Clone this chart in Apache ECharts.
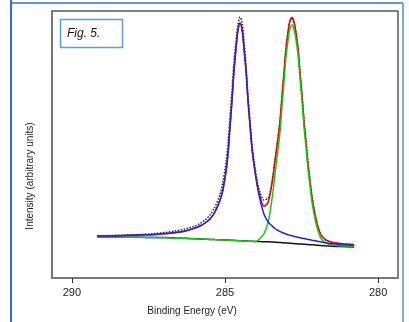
<!DOCTYPE html>
<html>
<head>
<meta charset="utf-8">
<script src="https://cdn.jsdelivr.net/npm/echarts@6/dist/echarts.min.js"></script>
<style>
  html, body { margin: 0; padding: 0; background: #fff; }
  #chart { width: 409px; height: 322px; }
</style>
</head>
<body>
<div id="chart"></div>
<script>
// binding energy grid (eV)
const energy = [289.18,288.76,288.27,287.78,287.29,286.96,286.63,286.31,285.98,285.82,
  285.65,285.49,285.33,285.16,285.07,284.97,284.90,284.84,284.77,284.71,
  284.64,284.58,284.51,284.44,284.38,284.31,284.25,284.18,284.12,284.05,
  283.95,283.86,283.73,283.59,283.46,283.37,283.27,283.20,283.14,283.07,
  283.01,282.94,282.88,282.81,282.75,282.68,282.61,282.55,282.48,282.42,
  282.35,282.29,282.22,282.16,282.06,281.96,281.86,281.73,281.57,281.24,
  280.78];

// measured spectrum (dotted)
const measured = [42,42.5,43,43.5,44.5,45.5,47,49,52,54.5,
  58,63,71,84,96,115,135,160,188,215,
  237,253,261,255,237,211,183,156,134,117,
  97,86,78,80,96,117,140,158,181,206,
  229,246,257,260,256,245,228,206,182,158,
  136,116,97,82,64,51,43,38.5,36,34.5,
  33.5];

// component 1 (blue)
const peak1 = [42,42,42.5,43,43.5,44.5,45.5,47,50,52,
  55,59,66,78,88,106,125,150,178,206,
  230,247,255,248,230,206,178,152,130,113,
  93,79,64,56,52,49.5,47.5,46.5,45.5,44.7,
  44,43.3,42.7,42.2,41.7,41.2,40.7,40.2,39.8,39.4,
  39,38.6,38.2,37.8,37.2,36.6,36,35.3,34.6,33.6,
  32.7];

// component 2 (green)
const peak2 = [41,41,40.8,40.7,40.5,40.2,39.8,39.5,39.2,39,
  38.8,38.6,38.4,38.2,38,37.9,37.8,37.7,37.6,37.5,
  37.4,37.3,37.2,37.1,37,36.9,36.8,36.7,36.6,36.6,
  37,39.5,44,56,80,103,128,147,171,197,
  220,238,249,253,249,238,221,199,175,151,
  129,109,91,76,59,47,39.5,35.5,33.5,32.2,
  31.5];

// background (black)
const background = [41,41,40.8,40.7,40.5,40.4,40,39.7,39.3,39,
  38.8,38.6,38.4,38.2,38.1,38,37.9,37.8,37.7,37.6,
  37.5,37.4,37.3,37.2,37.1,37,36.9,36.8,36.7,36.6,
  36.5,36.4,36.3,36.2,36,35.8,35.6,35.5,35.3,35.2,
  35,34.9,34.7,34.6,34.4,34.3,34.1,34,33.9,33.7,
  33.6,33.4,33.3,33.2,33,32.7,32.5,32.2,31.9,31.4,
  31];

// fit envelope (red)
const envelope = [42,42,42.5,43,43.5,44.3,45.3,46.8,49.9,52,
  55,59,66,78,87.9,105.9,124.9,149.9,177.9,205.9,
  229.9,246.9,254.9,247.9,229.9,205.9,177.9,151.9,129.9,113,
  93.5,82.1,71.7,75.8,96,116.7,139.9,158,181.2,206.5,
  229,246.4,257,260.6,256.3,244.9,227.6,205.2,180.9,156.7,
  134.4,114.2,95.9,80.6,63.2,50.9,43,38.6,36.2,34.4,
  33.2];

const xTicks = [280, 285, 290];

const pairs = arr => energy.map((e, i) => [e, arr[i]]);
const font = '"Liberation Sans", Arial, sans-serif';

function line(name, arr, color, z, extra) {
  return Object.assign({
    name: name,
    type: 'line',
    data: pairs(arr),
    symbol: 'none',
    smooth: 0.3,
    z: z,
    lineStyle: { color: color, width: 1.5 }
  }, extra || {});
}

const chart = echarts.init(document.getElementById('chart'));
chart.setOption({
  animation: false,
  grid: {
    left: 52, right: 11, top: 11, bottom: 44,
    show: true, borderColor: '#000', borderWidth: 1
  },
  xAxis: {
    type: 'value',
    inverse: true,
    min: 279.35,
    max: 290.65,
    axisLine: { show: true, lineStyle: { color: '#777', width: 2 } },
    axisTick: { show: true, customValues: xTicks, length: 5, lineStyle: { color: '#333' } },
    axisLabel: { customValues: xTicks, margin: 9, fontSize: 11, color: '#222', fontFamily: font },
    splitLine: { show: false }
  },
  yAxis: {
    type: 'value',
    min: 0,
    max: 267,
    axisLine: { show: true, lineStyle: { color: '#777', width: 2 } },
    axisTick: { show: false },
    axisLabel: { show: false },
    splitLine: { show: false }
  },
  series: [
    line('Measured', measured, '#222', 1, { lineStyle: { color: '#222', width: 1.5, type: 'dotted' } }),
    line('Background', background, '#111', 2),
    line('Fit', envelope, '#ee0000', 3),
    line('Peak 2', peak2, '#11cc11', 4),
    line('Peak 1', peak1, '#2020ee', 5)
  ],
  graphic: [
    { type: 'line', shape: { x1: 11, y1: 0, x2: 11, y2: 322 }, style: { stroke: '#2a6ee0', lineWidth: 2 } },
    { type: 'line', shape: { x1: 11, y1: 3, x2: 403, y2: 3 }, style: { stroke: '#2a6ee0', lineWidth: 1.5 } },
    { type: 'line', shape: { x1: 403, y1: 3, x2: 403, y2: 322 }, style: { stroke: '#7fa8f0', lineWidth: 2 } },
    { type: 'rect', shape: { x: 60.5, y: 19.5, width: 62, height: 28 }, style: { fill: '#fff', stroke: '#5a9af5', lineWidth: 1.5 }, z: 10 },
    { type: 'text', x: 67, y: 34, z: 11,
      style: { text: 'Fig. 5.', font: 'italic 12px ' + font, fill: '#111', textVerticalAlign: 'middle' } },
    { type: 'text', x: 192, y: 311,
      style: { text: 'Binding Energy (eV)', font: '10px ' + font, fill: '#222', textAlign: 'center', textVerticalAlign: 'middle' } },
    { type: 'text', x: 30, y: 176, rotation: Math.PI / 2,
      style: { text: 'Intensity (arbitrary units)', font: '10px ' + font, fill: '#222', textAlign: 'center', textVerticalAlign: 'middle' } }
  ]
});
</script>
</body>
</html>
